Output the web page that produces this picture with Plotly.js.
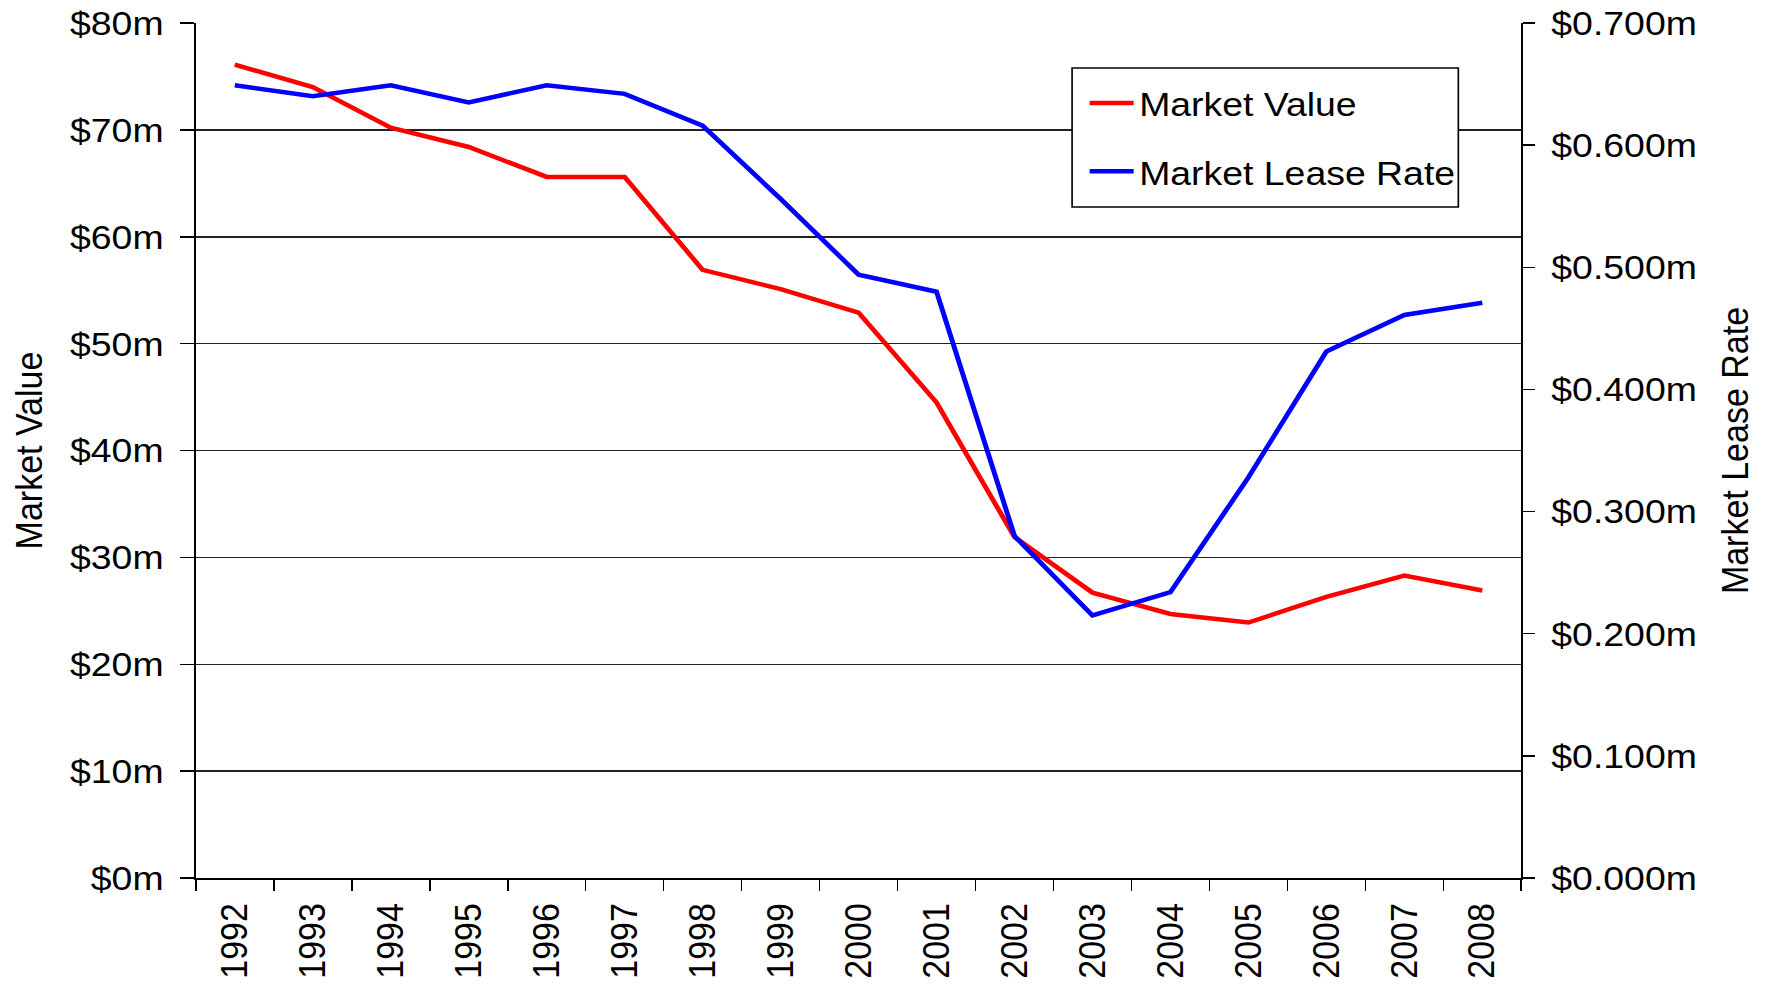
<!DOCTYPE html>
<html>
<head>
<meta charset="utf-8">
<script src="https://cdn.plot.ly/plotly-3.0.1.min.js"></script>
<style>
  html, body { margin: 0; padding: 0; background: #fff; overflow: hidden; }
  #chart { width: 1609.09px; height: 989px; transform: scaleX(1.1); transform-origin: 0 0; }
</style>
</head>
<body>
<div id="chart"></div>
<script>
const years = ['1992','1993','1994','1995','1996','1997','1998','1999','2000','2001','2002','2003','2004','2005','2006','2007','2008'];
const marketValue = [76.1, 74.0, 70.2, 68.4, 65.6, 65.6, 56.9, 55.1, 52.9, 44.5, 31.9, 26.7, 24.7, 23.9, 26.3, 28.3, 26.9];
const marketLeaseRate = [0.649, 0.640, 0.649, 0.635, 0.649, 0.642, 0.616, 0.556, 0.494, 0.480, 0.280, 0.215, 0.234, 0.328, 0.431, 0.461, 0.471];
const leftTickVals = [0, 10, 20, 30, 40, 50, 60, 70, 80];
const leftTickText = ['$0m','$10m','$20m','$30m','$40m','$50m','$60m','$70m','$80m'];
const rightTickVals = [0, 0.1, 0.2, 0.3, 0.4, 0.5, 0.6, 0.7];
const rightTickText = ['$0.000m','$0.100m','$0.200m','$0.300m','$0.400m','$0.500m','$0.600m','$0.700m'];

const SX = 1.1;                 // horizontal stretch of the original picture
const FONT = 'Liberation Sans, Arial, Helvetica, sans-serif';
const FS = 34;

const traces = [
  {
    x: years, y: marketValue, name: 'Market Value', type: 'scatter', mode: 'lines',
    line: { color: '#FF0000', width: 4.5 }, yaxis: 'y', legendgroup: 'a'
  },
  {
    x: years, y: marketLeaseRate, name: 'Market Lease Rate', type: 'scatter', mode: 'lines',
    line: { color: '#0000FF', width: 4.5 }, yaxis: 'y2', legendgroup: 'b'
  }
];

const layout = {
  width: 1770 / SX, height: 989,
  margin: { l: 196 / SX, r: 249 / SX, t: 23, b: 111, pad: 0 },
  paper_bgcolor: '#fff', plot_bgcolor: '#fff',
  font: { family: FONT, size: FS, color: '#000' },
  showlegend: true,
  legend: {
    x: 0.6702, y: 0.9398, xanchor: 'left', yanchor: 'top',
    bgcolor: 'rgba(0,0,0,0)', borderwidth: 0,
    font: { family: FONT, size: FS, color: '#000' },
    traceorder: 'grouped', tracegroupgap: 21, itemwidth: 40
  },
  shapes: [
    {
      type: 'rect', xref: 'paper', yref: 'paper',
      x0: 0.6611, x1: 0.9525, y0: 0.7848, y1: 0.9474,
      fillcolor: '#fff', line: { color: '#000', width: 1.5 }, layer: 'above'
    }
  ],
  xaxis: {
    type: 'category', range: [-0.5, 16.5],
    tickson: 'boundaries', ticks: 'outside', ticklen: 11, tickwidth: 1.5, tickcolor: '#000',
    tickangle: -90, tickfont: { family: FONT, size: FS, color: '#000' },
    showline: true, linecolor: '#000', linewidth: 1.5,
    showgrid: false, zeroline: false, ticklabelstandoff: 10
  },
  yaxis: {
    range: [0, 80], tickvals: leftTickVals, ticktext: leftTickText,
    ticks: 'outside', ticklen: 13, tickwidth: 1.5, tickcolor: '#000',
    tickfont: { family: FONT, size: FS, color: '#000' },
    showline: true, linecolor: '#000', linewidth: 1.5,
    showgrid: true, gridcolor: '#222', gridwidth: 1.5, zeroline: false,
    ticklabelstandoff: 8,
    title: { text: 'Market Value', font: { family: FONT, size: FS, color: '#000' }, standoff: 14 }
  },
  yaxis2: {
    range: [0, 0.7], tickvals: rightTickVals, ticktext: rightTickText,
    overlaying: 'y', side: 'right', anchor: 'x',
    ticks: 'outside', ticklen: 11, tickwidth: 1.5, tickcolor: '#000',
    tickfont: { family: FONT, size: FS, color: '#000' },
    showline: true, linecolor: '#000', linewidth: 1.5,
    showgrid: false, zeroline: false, ticklabelstandoff: 8,
    title: { text: 'Market Lease Rate', font: { family: FONT, size: FS, color: '#000' }, standoff: 23 }
  },
  yaxis3: {
    range: [0, 0.7], tickvals: rightTickVals,
    overlaying: 'y', side: 'right', anchor: 'x',
    ticks: 'inside', ticklen: 12, tickwidth: 1.5, tickcolor: '#000',
    showticklabels: false, showline: false, showgrid: false, zeroline: false
  }
};

Plotly.newPlot('chart', traces, layout, { displayModeBar: false, staticPlot: true });
</script>
</body>
</html>
